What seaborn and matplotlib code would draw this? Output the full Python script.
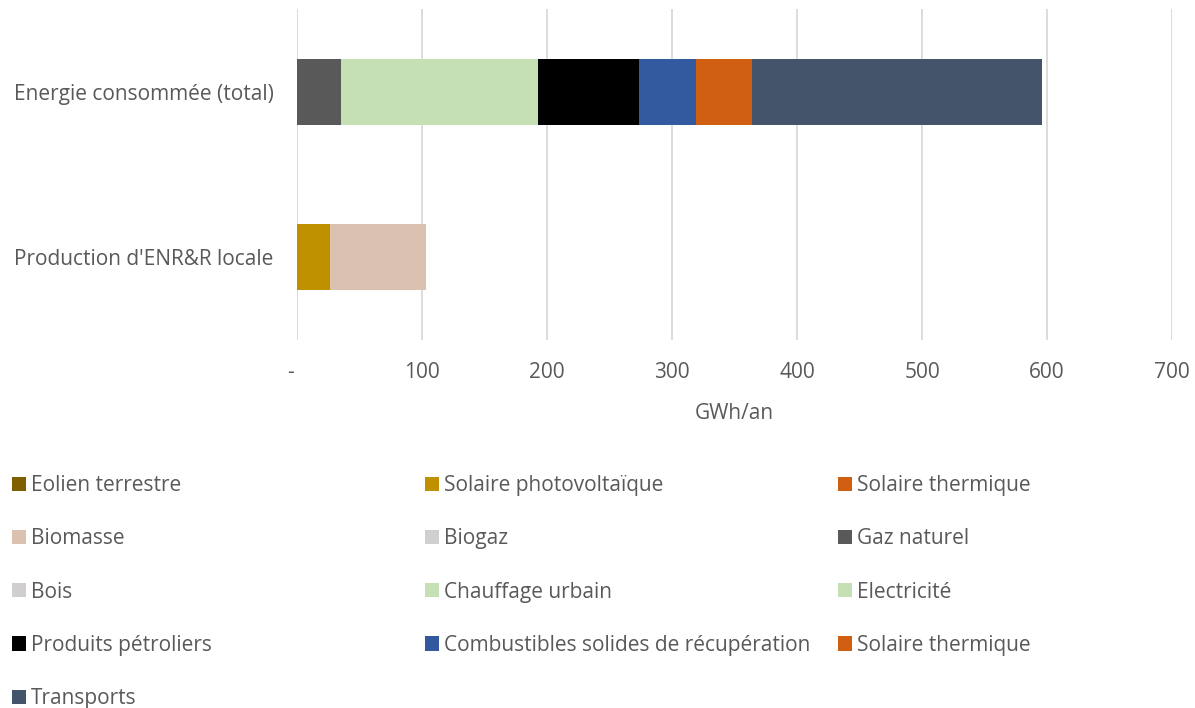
"""Stacked horizontal bars: energy consumed vs local renewable production."""

import matplotlib

matplotlib.use("Agg")
import matplotlib.pyplot as plt
import pandas as pd
import seaborn as sns

sns.set_theme(style="white")
plt.rcParams["font.family"] = ["Open Sans", "DejaVu Sans"]

TEXT = "#595959"
FS = 15

categories = ["Energie consommée (total)", "Production d'ENR&R locale"]

series = [
    "Eolien terrestre",
    "Solaire photovoltaïque",
    "Solaire thermique",
    "Biomasse",
    "Biogaz",
    "Gaz naturel",
    "Bois",
    "Chauffage urbain",
    "Electricité",
    "Produits pétroliers",
    "Combustibles solides de récupération",
    "Solaire thermique",
    "Transports",
]

# GWh/an, [consommation, production]
eolien = [0, 0]
solaire_pv = [0, 26.0]
solaire_th = [0, 0.7]
biomasse = [0, 76.7]
biogaz = [0, 0]
gaz_naturel = [34.9, 0]
bois = [0, 0]
chauffage_urbain = [0, 0]
electricite = [157.9, 0]
petrole = [80.9, 0]
csr = [45.7, 0]
solaire_th_conso = [44.9, 0]
transports = [231.6, 0]

values = [eolien, solaire_pv, solaire_th, biomasse, biogaz, gaz_naturel, bois,
          chauffage_urbain, electricite, petrole, csr, solaire_th_conso, transports]

colors = ["#7f6000", "#bf9000", "#d05f12", "#dac1b0", "#d0cece", "#595959",
          "#d0cece", "#c5e0b4", "#c5e0b4", "#000000", "#33599f", "#d05f12",
          "#44546a"]

x_ticks = [0, 100, 200, 300, 400, 500, 600, 700]
x_ticklabels = ["-  ", "100", "200", "300", "400", "500", "600", "700"]

# cumulative totals for stacking
rows = []
for cat_i, cat in enumerate(categories):
    running = 0.0
    for s_i, name in enumerate(series):
        running += values[s_i][cat_i]
        rows.append({"serie": s_i, "category": cat, "cum": running})
df = pd.DataFrame(rows)

fig = plt.figure(figsize=(11.95, 7.08), dpi=100)
ax = fig.add_axes([297 / 1195, 1 - 340 / 708, (1172 - 297) / 1195, (340 - 9) / 708])

# draw from the last series back, each shorter bar covering the previous one
for s_i in reversed(range(len(series))):
    sub = df[df["serie"] == s_i]
    sns.barplot(data=sub, x="cum", y="category", order=categories, orient="h",
                color=colors[s_i], width=0.4, linewidth=0, saturation=1,
                label=series[s_i], legend=False, ax=ax)

if ax.get_legend() is not None:
    ax.get_legend().remove()

ax.set_xlim(0, 700)
ax.set_xticks(x_ticks)
ax.set_xticklabels(x_ticklabels)
ax.grid(axis="x", color="#d9d9d9", linewidth=1.3)
ax.set_axisbelow(True)
for sp in ax.spines.values():
    sp.set_visible(False)
ax.tick_params(axis="x", length=0, pad=16, labelsize=FS, labelcolor=TEXT)
ax.tick_params(axis="y", length=0, pad=17, labelsize=FS, labelcolor=TEXT)
ax.set_ylabel("")
ax.set_xlabel("GWh/an", fontsize=FS, color=TEXT, labelpad=14)

handles, labels = ax.get_legend_handles_labels()
handles, labels = handles[::-1], labels[::-1]

col_x = [12 / 1195, 425 / 1195, 838 / 1195]
for c in range(3):
    idx = list(range(c, len(series), 3))
    fig.legend([handles[i] for i in idx], [labels[i] for i in idx],
               loc="upper left", bbox_to_anchor=(col_x[c], 1 - 475 / 708),
               frameon=False, fontsize=FS, labelcolor=TEXT,
               handlelength=0.67, handleheight=0.67, handletextpad=0.25,
               labelspacing=1.55, borderpad=0, borderaxespad=0)

fig.savefig("out.png", dpi=100)
